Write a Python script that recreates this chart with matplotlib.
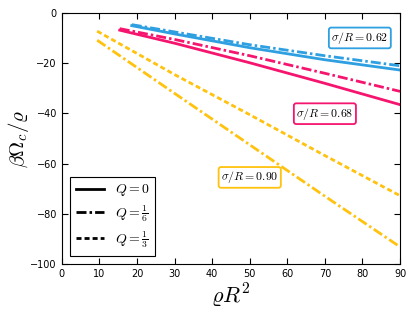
import matplotlib
matplotlib.use("Agg")
import matplotlib.pyplot as plt

plt.rcParams['mathtext.fontset'] = 'cm'

blue = '#2e9fe0'
pink = '#f5156f'
yellow = '#ffc20e'

x_blue = [18.6, 30, 50, 70, 90]
blue_solid = [-5.0, -8.3, -13.8, -18.6, -22.7]
blue_dashdot = [-4.6, -7.5, -12.6, -17.0, -21.0]

x_pink = [15.4, 30, 50, 70, 90]
pink_solid = [-6.8, -12.0, -19.8, -28.0, -36.5]
pink_dashdot = [-6.2, -10.5, -17.0, -24.0, -31.2]

x_yellow = [9.4, 30, 50, 70, 90]
yellow_dashed = [-7.2, -24.5, -40.5, -56.8, -72.8]
yellow_dashdot = [-10.8, -32.0, -52.5, -73.0, -93.2]

labels = [r'$\sigma/R=0.62$', r'$\sigma/R=0.68$', r'$\sigma/R=0.90$']
label_x = [79.3, 70.0, 50.0]
label_y = [-9.9, -40.1, -65.5]
label_colors = [blue, pink, yellow]

DASH = (0, (1.8, 1.1))
DASHDOT = (0, (3.6, 1.1, 0.9, 1.1))

fig = plt.figure(figsize=(4.15, 3.12), dpi=100)
ax = fig.add_axes([0.149, 0.154, 0.815, 0.804])

lw = 2.0
ax.plot(x_blue, blue_solid, color=blue, lw=lw, ls='-')
ax.plot(x_blue, blue_dashdot, color=blue, lw=lw, ls=DASHDOT)
ax.plot(x_pink, pink_solid, color=pink, lw=lw, ls='-')
ax.plot(x_pink, pink_dashdot, color=pink, lw=lw, ls=DASHDOT)
ax.plot(x_yellow, yellow_dashed, color=yellow, lw=lw, ls=DASH)
ax.plot(x_yellow, yellow_dashdot, color=yellow, lw=lw, ls=DASHDOT)

for t, xx, yy, c in zip(labels, label_x, label_y, label_colors):
    ax.text(xx, yy, t, ha='center', va='center', fontsize=8.5,
            bbox=dict(boxstyle='round,pad=0.2', fc='white', ec=c, lw=1.3))

h1, = ax.plot([], [], color='k', lw=lw, ls='-')
h2, = ax.plot([], [], color='k', lw=lw, ls=DASHDOT)
h3, = ax.plot([], [], color='k', lw=lw, ls=DASH)
leg = ax.legend([h1, h2, h3], [r'$Q=0$', r'$Q=\frac{1}{6}$', r'$Q=\frac{1}{3}$'],
                loc='lower left', fontsize=10, fancybox=False, framealpha=1,
                edgecolor='black', handlelength=2.0, labelspacing=0.35,
                borderaxespad=0.6)
leg.get_frame().set_linewidth(0.8)

ax.set_xlim(0, 90)
ax.set_ylim(-100, 0)
ax.set_xticks(range(0, 91, 10))
ax.set_yticks(range(-100, 1, 20))
ax.tick_params(direction='in', top=True, right=True, labelsize=7, length=4)
for s in ax.spines.values():
    s.set_linewidth(0.8)

ax.set_xlabel(r'$\varrho R^2$', fontsize=16)
ax.set_ylabel(r'$\beta\Omega_c/\varrho$', fontsize=15)
ax.xaxis.set_label_coords(0.5, -0.07)
ax.yaxis.set_label_coords(-0.09, 0.5)

fig.savefig('out.png', dpi=100)
